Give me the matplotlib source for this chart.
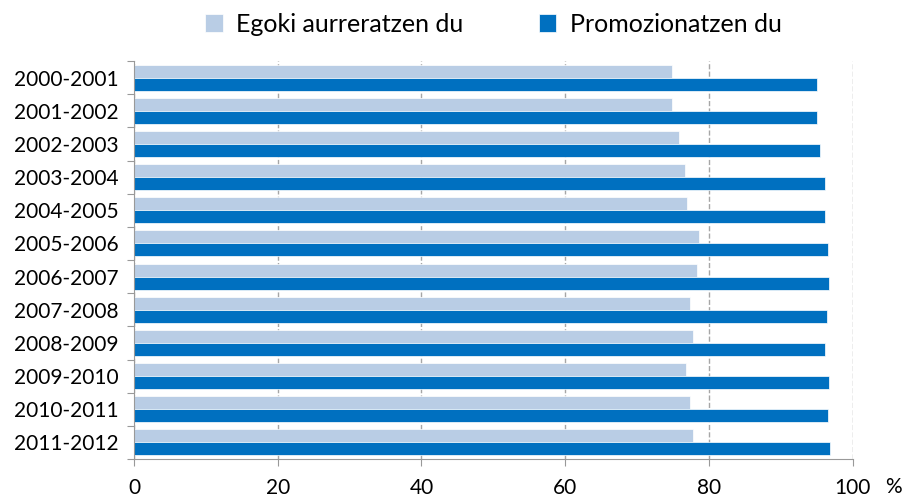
import numpy as np
import matplotlib.pyplot as plt

plt.rcParams['font.family'] = ['Lato', 'DejaVu Sans']

years = ["2000-2001", "2001-2002", "2002-2003", "2003-2004", "2004-2005", "2005-2006",
         "2006-2007", "2007-2008", "2008-2009", "2009-2010", "2010-2011", "2011-2012"]
egoki = [74.8, 74.8, 75.8, 76.6, 77.0, 78.6, 78.4, 77.4, 77.8, 76.8, 77.4, 77.8]
promo = [95.0, 95.0, 95.4, 96.2, 96.2, 96.6, 96.7, 96.4, 96.2, 96.7, 96.6, 96.9]
labels = ["Egoki aurreratzen du", "Promozionatzen du"]
xticks = [0, 20, 40, 60, 80, 100]

fig = plt.figure(figsize=(9.12, 4.97), dpi=100)
ax = fig.add_axes([134 / 912, 1 - 459 / 497, (852.7 - 134) / 912, (459 - 61) / 497])

y = np.arange(len(years))
h = 0.39
ax.barh(y - h / 2, egoki, height=h, color='#B9CDE5', edgecolor='white', linewidth=0.5,
        label=labels[0], zorder=2)
ax.barh(y + h / 2, promo, height=h, color='#0070C0', edgecolor='white', linewidth=0.5,
        label=labels[1], zorder=2)

ax.set_ylim(len(years) - 0.5, -0.5)
ax.set_xlim(0, 100)
# category boundaries as major ticks, names on minor ticks
ax.set_yticks(np.arange(len(years) + 1) - 0.5)
ax.set_yticklabels([])
ax.set_yticks(y, minor=True)
ax.set_yticklabels(years, minor=True, fontsize=15)
ax.tick_params(axis='y', which='minor', length=0, pad=11)
ax.tick_params(axis='y', which='major', length=5, color='#999999', direction='out')
ax.set_xticks(xticks)
ax.tick_params(axis='x', length=5, color='#999999', labelsize=15, pad=9)

ax.grid(axis='x', linestyle='--', color='#A6A6A6', linewidth=1, zorder=0)
for s in ['top', 'right']:
    ax.spines[s].set_visible(False)
for s in ['left', 'bottom']:
    ax.spines[s].set_color('#999999')

fig.text(893 / 912, 1 - 487 / 497, '%', fontsize=15, ha='center', va='center')

fig.legend(loc='center', bbox_to_anchor=(0.541, 1 - 24 / 497), ncol=2, frameon=False,
           fontsize=18, handlelength=0.7, handleheight=0.7, columnspacing=3.0,
           handletextpad=0.55)

fig.savefig('out.png', dpi=100)
